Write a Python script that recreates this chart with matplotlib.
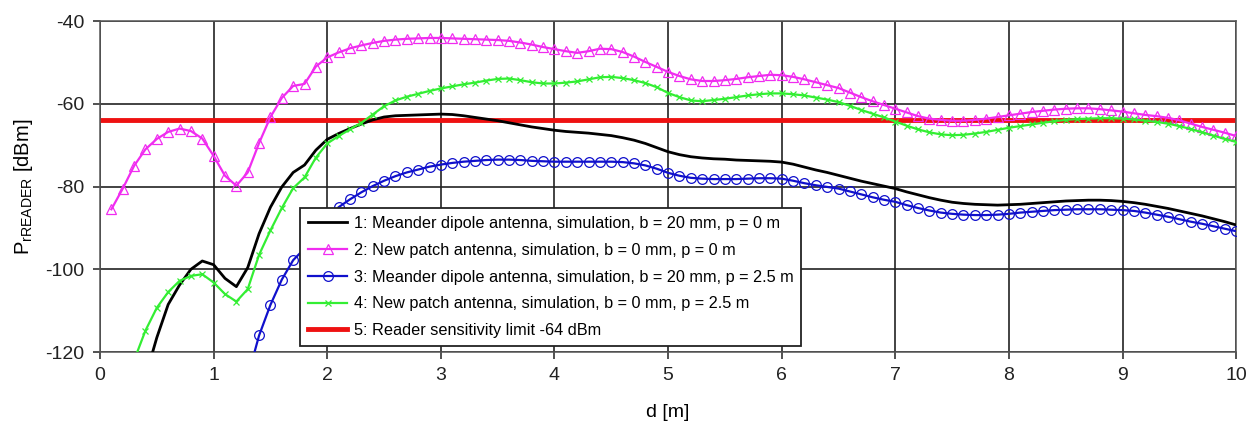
import numpy as np
import matplotlib
matplotlib.use("Agg")
import matplotlib.pyplot as plt

# distance grid (0.1 m steps) -- each curve starts where it enters the plot
d_patch0 = np.round(np.arange(0.1, 10.01, 0.1), 1)
d_patch25 = np.round(np.arange(0.3, 10.01, 0.1), 1)
d_dipole0 = np.round(np.arange(0.4, 10.01, 0.1), 1)
d_dipole25 = np.round(np.arange(1.3, 10.01, 0.1), 1)

# 1: meander dipole, b = 20 mm, p = 0 m  (0.4 .. 10.0)
p_dipole0 = [
    -126, -116.5, -108.5, -103.8, -100.0, -98.0, -98.9, -102.2, -104.2, -99.6,
    -91.4, -85.0, -80.1, -76.6, -74.8, -71.2, -68.6, -67.2, -66.0, -64.9,
    -63.9, -63.2, -62.9, -62.8, -62.7, -62.6, -62.5, -62.6, -62.9, -63.3,
    -63.7, -64.1, -64.6, -65.1, -65.6, -66.0, -66.4, -66.7, -66.9, -67.1,
    -67.4, -67.7, -68.2, -68.8, -69.6, -70.6, -71.6, -72.3, -72.8, -73.1,
    -73.3, -73.4, -73.6, -73.7, -73.8, -73.9, -74.1, -74.6, -75.3, -76.0,
    -76.6, -77.3, -78.0, -78.7, -79.3, -79.9, -80.5, -81.3, -82.0, -82.7,
    -83.3, -83.8, -84.1, -84.3, -84.4, -84.5, -84.4, -84.3, -84.1, -83.9,
    -83.7, -83.5, -83.4, -83.3, -83.3, -83.4, -83.6, -83.9, -84.3, -84.8,
    -85.3, -85.9, -86.5, -87.1, -87.8, -88.5, -89.3,
]

# 2: new patch, b = 0 mm, p = 0 m  (0.1 .. 10.0)
p_patch0 = [
    -85.5, -80.5, -75.0, -71.0, -68.5, -66.8, -66.0, -66.6, -68.4, -72.6,
    -77.4, -79.8, -76.6, -69.5, -63.2, -58.6, -55.7, -55.2, -51.0, -48.8,
    -47.6, -46.6, -45.9, -45.3, -44.8, -44.5, -44.3, -44.2, -44.1, -44.1,
    -44.2, -44.3, -44.4, -44.5, -44.6, -44.8, -45.2, -45.7, -46.3, -46.8,
    -47.3, -47.7, -47.3, -46.7, -46.8, -47.5, -48.6, -49.9, -51.1, -52.3,
    -53.3, -54.1, -54.5, -54.5, -54.3, -54.0, -53.6, -53.3, -53.0, -53.1,
    -53.5, -54.1, -54.8, -55.5, -56.2, -57.3, -58.4, -59.4, -60.3, -61.2,
    -62.1, -63.0, -63.6, -63.9, -64.1, -64.1, -63.9, -63.6, -63.2, -62.8,
    -62.4, -62.0, -61.7, -61.4, -61.2, -61.1, -61.1, -61.3, -61.6, -61.9,
    -62.3, -62.7, -63.0, -63.4, -64.0, -64.8, -65.6, -66.3, -67.0, -67.8,
]

# 3: meander dipole, b = 20 mm, p = 2.5 m  (1.3 .. 10.0)
p_dipole25 = [
    -126, -116.0, -108.6, -102.5, -97.8, -95.0, -91.5, -88.0, -85.0, -83.1,
    -81.4, -79.9, -78.6, -77.5, -76.6, -75.9, -75.2, -74.7, -74.3, -74.0,
    -73.8, -73.6, -73.5, -73.5, -73.6, -73.8, -73.9, -74.0, -74.0, -74.0,
    -74.0, -74.0, -74.0, -74.1, -74.4, -74.9, -75.7, -76.7, -77.4, -77.9,
    -78.1, -78.2, -78.2, -78.2, -78.1, -78.0, -78.0, -78.1, -78.6, -79.2,
    -79.7, -80.1, -80.5, -81.2, -81.9, -82.6, -83.2, -83.7, -84.5, -85.2,
    -85.8, -86.3, -86.6, -86.8, -86.9, -86.9, -86.8, -86.6, -86.3, -86.1,
    -85.9, -85.7, -85.6, -85.5, -85.5, -85.5, -85.6, -85.7, -85.9, -86.3,
    -86.8, -87.3, -87.9, -88.5, -89.0, -89.6, -90.2, -90.8,
]

# 4: new patch, b = 0 mm, p = 2.5 m  (0.3 .. 10.0)
p_patch25 = [
    -122, -114.8, -109.3, -105.5, -102.8, -101.6, -101.2, -103.2, -106.0, -107.8,
    -104.8, -96.5, -90.6, -85.2, -80.4, -77.8, -73.0, -69.6, -67.8, -66.2,
    -64.6, -62.6, -60.6, -59.2, -58.3, -57.6, -56.9, -56.3, -55.8, -55.3,
    -54.9, -54.4, -54.0, -53.9, -54.3, -54.8, -55.1, -55.1, -54.9, -54.6,
    -54.1, -53.6, -53.5, -53.8, -54.3, -55.0, -56.0, -57.4, -58.4, -59.2,
    -59.4, -59.1, -58.8, -58.4, -58.0, -57.7, -57.5, -57.5, -57.7, -58.0,
    -58.5, -59.0, -59.6, -60.5, -61.5, -62.4, -63.3, -64.3, -65.3, -66.2,
    -66.9, -67.4, -67.6, -67.5, -67.2, -66.8, -66.3, -65.8, -65.4, -65.0,
    -64.6, -64.2, -63.9, -63.7, -63.6, -63.5, -63.5, -63.6, -63.8, -64.1,
    -64.4, -64.8, -65.4, -66.1, -66.9, -67.7, -68.5, -69.2,
]

sensitivity = -64

labels = [
    "1: Meander dipole antenna, simulation, b = 20 mm, p = 0 m",
    "2: New patch antenna, simulation, b = 0 mm, p = 0 m",
    "3: Meander dipole antenna, simulation, b = 20 mm, p = 2.5 m",
    "4: New patch antenna, simulation, b = 0 mm, p = 2.5 m",
    "5: Reader sensitivity limit -64 dBm",
]

plt.rcParams.update({
    "font.family": ["Liberation Sans", "DejaVu Sans"],
    "mathtext.default": "regular",
    "axes.unicode_minus": False,
})

fig = plt.figure(figsize=(12.55, 4.33), dpi=100)
ax = fig.add_axes([0.0797, 0.187, 0.9053, 0.7645])

ax.plot(d_dipole0, p_dipole0, color="black", lw=2.0, label=labels[0], zorder=3)
ax.plot(d_patch0, p_patch0, color="#f02cf0", lw=1.6, marker="^", ms=6.5,
        mfc="none", mec="#f02cf0", mew=0.9, label=labels[1], zorder=4)
ax.plot(d_dipole25, p_dipole25, color="#1010cc", lw=1.6, marker="o", ms=7,
        mfc="none", mec="#1010cc", mew=0.9, label=labels[2], zorder=3)
ax.plot(d_patch25, p_patch25, color="#33ee33", lw=1.6, marker="x", ms=5,
        mew=0.9, label=labels[3], zorder=4)
ax.axhline(sensitivity, color="#ee1111", lw=3.5, label=labels[4], zorder=2)

ax.set_xlim(0, 10)
ax.set_ylim(-120, -40)
ax.set_xticks(range(0, 11))
ax.set_yticks(range(-120, -39, 20))
ax.grid(True, color="#222222", lw=1.2)
ax.set_axisbelow(True)
for s in ax.spines.values():
    s.set_color("#555555")
    s.set_linewidth(1.1)
ax.tick_params(direction="out", length=5, width=1.1, labelsize=14,
               colors="#222222", pad=6)

ax.set_xlabel("d [m]", fontsize=14, labelpad=14)
ax.set_ylabel("P$_{rREADER}$ [dBm]", fontsize=14.5, labelpad=8)

leg = ax.legend(loc="lower left", bbox_to_anchor=(0.176, 0.018),
                prop={"size": 11.7},
                frameon=True, fancybox=False, framealpha=1,
                edgecolor="#222222", handlelength=2.4, handletextpad=0.4,
                labelspacing=0.72, borderpad=0.5, borderaxespad=0)
leg.get_frame().set_linewidth(1.3)
leg.set_zorder(10)

fig.savefig("out.png", dpi=100)
